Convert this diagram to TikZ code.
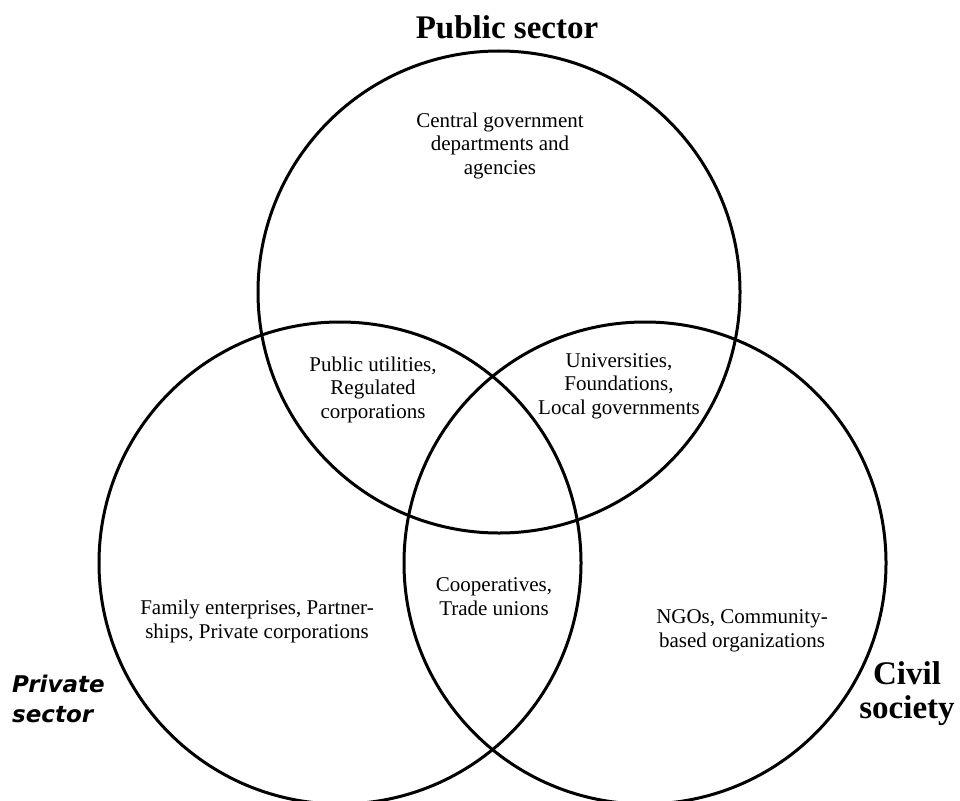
\documentclass[tikz,border=0pt]{standalone}
\usepackage{fontspec}
\setmainfont{Liberation Serif}
\newfontfamily\verd{DejaVu Sans}
\begin{document}
\begin{tikzpicture}[x=1pt,y=-1pt,
  ring/.style={draw=black,line width=3pt},
  lbl/.style={font=\fontsize{21}{23.5}\selectfont,align=center,inner sep=0pt,anchor=base},
  ttl/.style={font=\fontsize{33}{34}\selectfont\bfseries,align=center,inner sep=0pt,anchor=base}]
\useasboundingbox (0,0) rectangle (960,800);
\clip (0,0) rectangle (960,800);
\fill[white] (0,0) rectangle (960,800);
\draw[ring] (499,292) circle[radius=241];
\draw[ring] (340,563) circle[radius=241];
\draw[ring] (645,563) circle[radius=241];
\node[ttl] (pub) at (507,39) {Public sector};
\node[ttl] (civ) at (907,718) {Civil\\society};
\node[font=\verd\fontsize{23}{30}\selectfont\bfseries\itshape,align=left,inner sep=0pt,anchor=base west] (pri) at (12,722) {Private\\sector};
\node[lbl] (cg) at (500,174) {Central government\\departments and\\agencies};
\node[lbl] (pu) at (373,418) {Public utilities,\\Regulated\\corporations};
\node[lbl] (un) at (619,414) {Universities,\\Foundations,\\Local governments};
\node[lbl] (co) at (494,615) {Cooperatives,\\Trade unions};
\node[lbl] (fe) at (257,638) {Family enterprises, Partner-\\ships, Private corporations};
\node[lbl] (ng) at (742,647) {NGOs, Community-\\based organizations};
\end{tikzpicture}
\end{document}
